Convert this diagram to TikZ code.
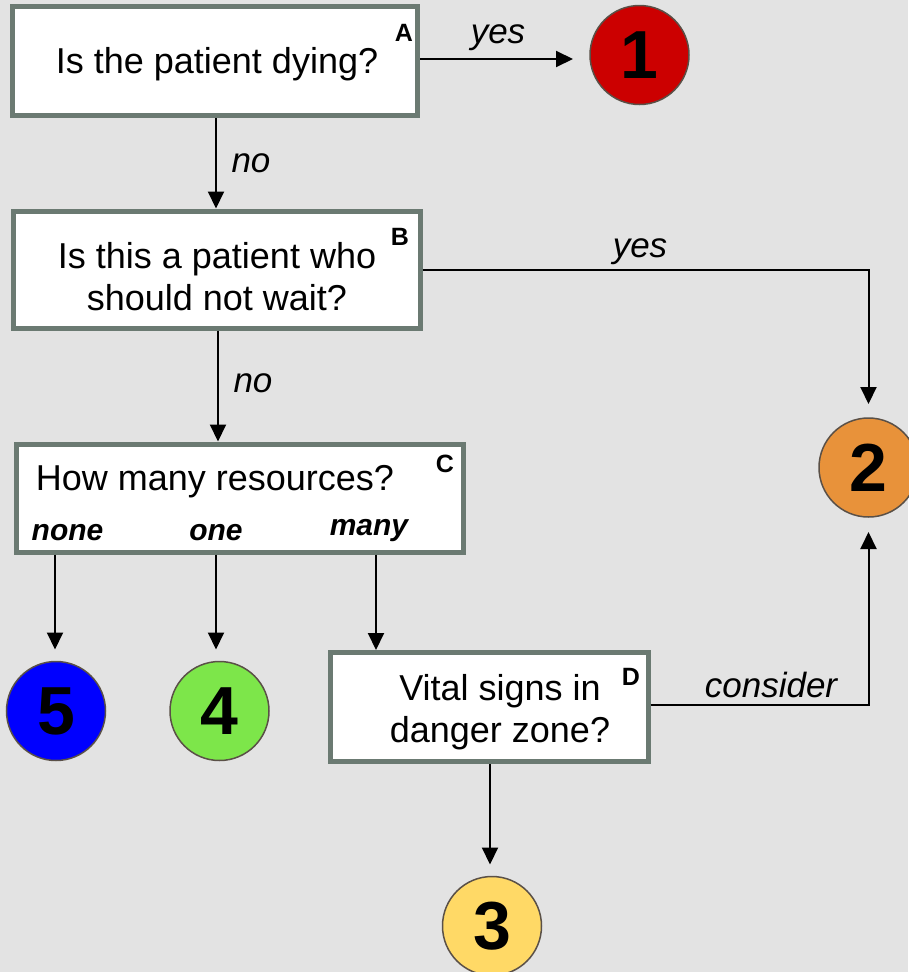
\documentclass[tikz,border=0pt]{standalone}
\usepackage{fontspec}
\setmainfont{Liberation Sans}
\usetikzlibrary{arrows.meta}
\definecolor{bg}{HTML}{E3E3E3}
\definecolor{boxline}{HTML}{6B7A72}
\definecolor{ringline}{HTML}{5A5047}
\definecolor{cred}{HTML}{CC0000}
\definecolor{corange}{HTML}{E8923A}
\definecolor{cyellow}{HTML}{FFD966}
\definecolor{cgreen}{HTML}{7DE64A}
\definecolor{cblue}{HTML}{0000FF}
\tikzset{
  qbox/.style={draw=boxline, line width=5pt, fill=white, rectangle, inner sep=0pt},
  qtext/.style={font=\fontsize{36}{42}\selectfont, inner sep=0pt, align=center, anchor=base},
  tag/.style={font=\fontsize{25}{30}\selectfont\bfseries, inner sep=0pt, anchor=base},
  lab/.style={font=\fontsize{35}{40}\selectfont\itshape, inner sep=0pt, anchor=base},
  opt/.style={font=\fontsize{30}{34}\selectfont\bfseries\itshape, inner sep=0pt, anchor=base},
  num/.style={circle, draw=ringline, line width=1.5pt, inner sep=0pt, outer sep=0pt, minimum size=99pt,
    font=\fontsize{68}{70}\selectfont\bfseries},
  conn/.style={line width=2pt, -{Triangle[length=17pt,width=16pt]}},
}
\begin{document}
\begin{tikzpicture}[x=1pt,y=-1pt]
\fill[bg] (0,0) rectangle (908,972);
\useasboundingbox (0,0) rectangle (908,972);

% boxes
\node[qbox, minimum width=405pt, minimum height=109pt] (A) at (215,61) {};
\node[qbox, minimum width=407pt, minimum height=117pt] (B) at (216.5,269.5) {};
\node[qbox, minimum width=447pt, minimum height=108pt] (C) at (239.5,498) {};
\node[qbox, minimum width=318pt, minimum height=109pt] (D) at (489,707) {};

% box texts (base = baseline of last line)
\node[qtext] (At) at (217,73) {Is the patient dying?};
\node[qtext] (Bt) at (217,310) {Is this a patient who\\should not wait?};
\node[qtext] (Ct) at (215,490) {How many resources?};
\node[qtext] (Dt) at (500,742) {Vital signs in\\danger zone?};
\node[opt] (none) at (67.5,540) {none};
\node[opt] (one) at (216,540) {one};
\node[opt] (many) at (369,535) {many};

\node[tag] (tA) at (404,41) {A};
\node[tag] (tB) at (400,245) {B};
\node[tag] (tC) at (445,472) {C};
\node[tag] (tD) at (631,685) {D};

% circles
\node[num, fill=cred] (n1) at (639.5,55) {1};
\node[num, fill=corange] (n2) at (868.5,467.5) {2};
\node[num, fill=cyellow] (n3) at (492,926) {3};
\node[num, fill=cgreen] (n4) at (219.5,711) {4};
\node[num, fill=cblue] (n5) at (56,711) {5};

% connectors
\draw[conn, shorten >=17pt] (A.east |- 0,59) -- (n1.west |- 0,59);
\draw[conn] (A.south -| 216,0) -- (B.north -| 216,0);
\draw[conn, shorten >=14pt] (B.east |- 0,270) -| (n2.north);
\draw[conn] (B.south -| 218,0) -- (C.north -| 218,0);
\draw[conn, shorten >=12pt] (C.south -| 55,0) -- (n5.north -| 55,0);
\draw[conn, shorten >=12pt] (C.south -| 216,0) -- (n4.north -| 216,0);
\draw[conn] (C.south -| 376,0) -- (D.north -| 376,0);
\draw[conn, shorten >=15pt] (D.east |- 0,705) -| (n2.south);
\draw[conn, shorten >=12pt] (D.south -| 490,0) -- (n3.north -| 490,0);

% labels
\node[lab] (yes1) at (498,43) {yes};
\node[lab] (no1) at (251,172) {no};
\node[lab] (yes2) at (640,257) {yes};
\node[lab] (no2) at (253,392) {no};
\node[lab] (cons) at (771,697) {consider};
\end{tikzpicture}
\end{document}
